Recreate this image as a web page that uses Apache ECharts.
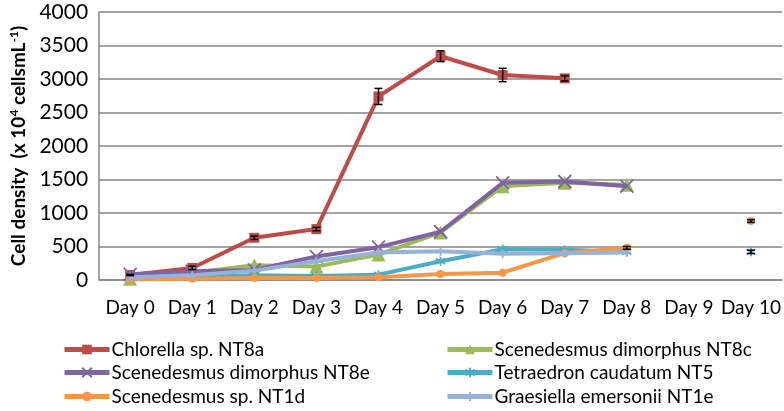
<!DOCTYPE html>
<html>
<head>
<meta charset="utf-8">
<script src="https://cdn.jsdelivr.net/npm/echarts@6/dist/echarts.min.js"></script>
<style>
html,body{margin:0;padding:0;background:#fff;}
#chart{width:784px;height:411px;}
</style>
</head>
<body>
<div id="chart"></div>
<script>
const days = ['Day 0','Day 1','Day 2','Day 3','Day 4','Day 5','Day 6','Day 7','Day 8','Day 9','Day 10'];
const yTicks = [0, 500, 1000, 1500, 2000, 2500, 3000, 3500, 4000];

const chlorellaNT8a   = [75, 180, 630, 760, 2740, 3340, 3060, 3010, null, null, null];
const scenedesNT8c    = [20, 110, 220, 200, 380, 710, 1400, 1450, 1420, null, null];
const scenedesNT8e    = [85, 130, 150, 350, 490, 720, 1450, 1470, 1400, null, null];
const tetraedronNT5   = [30, 50, 70, 60, 80, 280, 460, 450, 420, null, 420];
const scenedesNT1d    = [10, 20, 30, 30, 40, 90, 110, 400, 480, null, 880];
const graesiellaNT1e  = [40, 70, 140, 280, 410, 430, 390, 400, 410, null, null];

const chlorellaErr  = [10, 25, 25, 25, 120, 80, 100, 40, null, null, null];
const tetraedronErr = [0, 0, 0, 0, 0, 0, 0, 0, 0, null, 25];
const scenedesNT1dErr = [0, 0, 0, 0, 0, 0, 0, 0, 20, null, 20];

const names = ['Chlorella sp. NT8a','Scenedesmus dimorphus NT8c','Scenedesmus dimorphus NT8e','Tetraedron caudatum NT5','Scenedesmus sp. NT1d','Graesiella emersonii NT1e'];
const colors = ['#BE4B48','#9BBB59','#8064A2','#4BACC6','#F79646','#95B3D7'];
const seriesData = [chlorellaNT8a, scenedesNT8c, scenedesNT8e, tetraedronNT5, scenedesNT1d, graesiellaNT1e];

const symbols = [
  {symbol:'rect', size:10},
  {symbol:'triangle', size:14},
  {symbol:'path://M0,0L10,10M10,0L0,10', size:13, stroke:true},
  {symbol:'path://M5,0L5,10M0,2L10,8M0,8L10,2', size:9, stroke:true},
  {symbol:'circle', size:8},
  {symbol:'path://M5,0L5,10M0,5L10,5', size:9, stroke:true}
];

const FONT = 'Lato';

const lineSeries = seriesData.map((d, i) => ({
  name: names[i],
  type: 'line',
  data: d,
  connectNulls: false,
  symbol: symbols[i].symbol,
  symbolSize: symbols[i].size,
  showSymbol: true,
  lineStyle: {color: colors[i], width: 4},
  itemStyle: symbols[i].stroke
    ? {color: colors[i], borderColor: colors[i], borderWidth: 1.8}
    : {color: colors[i]},
  z: 2 + i,
  animation: false
}));

function errSeries(vals, errs) {
  const data = [];
  vals.forEach((v, i) => {
    if (v != null && errs[i]) data.push([i, v - errs[i], v + errs[i]]);
  });
  return {
    type: 'custom',
    data: data,
    z: 20,
    silent: true,
    animation: false,
    renderItem: function (params, api) {
      const x = api.value(0);
      const lo = api.coord([x, api.value(1)]);
      const hi = api.coord([x, api.value(2)]);
      const w = 4;
      const st = {stroke: '#000', lineWidth: 1.5};
      return {
        type: 'group',
        children: [
          {type:'line', shape:{x1:lo[0], y1:lo[1], x2:hi[0], y2:hi[1]}, style:st},
          {type:'line', shape:{x1:lo[0]-w, y1:lo[1], x2:lo[0]+w, y2:lo[1]}, style:st},
          {type:'line', shape:{x1:hi[0]-w, y1:hi[1], x2:hi[0]+w, y2:hi[1]}, style:st}
        ]
      };
    }
  };
}

// legend placement: [series index, left, top]
const legendPlaces = [[0, 62, 340], [2, 62, 363], [4, 62, 387], [1, 445, 340], [3, 445, 363], [5, 445, 387]];
const legends = legendPlaces.map(p => ({
  orient: 'horizontal',
  left: p[1],
  top: p[2],
  itemWidth: 45,
  itemHeight: 12,
  padding: 0,
  lineStyle: {width: 5},
  textStyle: {fontFamily: FONT, fontSize: 19, color: '#000', padding: [0,0,0,-3]},
  data: [names[p[0]]]
}));

const chart = echarts.init(document.getElementById('chart'));
chart.setOption({
  animation: false,
  grid: {left: 98, right: 2, top: 12, bottom: 131},
  xAxis: {
    type: 'category',
    data: days,
    boundaryGap: true,
    axisLine: {show: true, lineStyle: {color: '#868686', width: 1.5}},
    axisTick: {show: false},
    axisLabel: {fontFamily: FONT, fontSize: 19, color: '#000', margin: 18, interval: 0}
  },
  yAxis: {
    type: 'value',
    min: 0, max: 4000, interval: 500,
    axisLine: {show: true, lineStyle: {color: '#868686', width: 1.5}},
    axisTick: {show: false},
    splitLine: {lineStyle: {color: '#868686', width: 1.5}},
    axisLabel: {fontFamily: FONT, fontSize: 21, color: '#000', margin: 11,
      formatter: v => yTicks.indexOf(v) >= 0 ? String(v) : ''},
    name: '{b|Cell density  (x 10}{s|4}{b| cellsmL}{s|-1}{b|)}',
    nameLocation: 'middle',
    nameGap: 66,
    nameTextStyle: {
      rich: {
        b: {fontFamily: FONT, fontSize: 19, fontWeight: 'bold', color: '#000', lineHeight: 22},
        s: {fontFamily: FONT, fontSize: 12, fontWeight: 'bold', color: '#000', verticalAlign: 'top', lineHeight: 22, padding: [0,0,8,0]}
      }
    }
  },
  legend: legends,
  series: lineSeries.concat([
    errSeries(chlorellaNT8a, chlorellaErr),
    errSeries(tetraedronNT5, tetraedronErr),
    errSeries(scenedesNT1d, scenedesNT1dErr)
  ])
});
</script>
</body>
</html>
